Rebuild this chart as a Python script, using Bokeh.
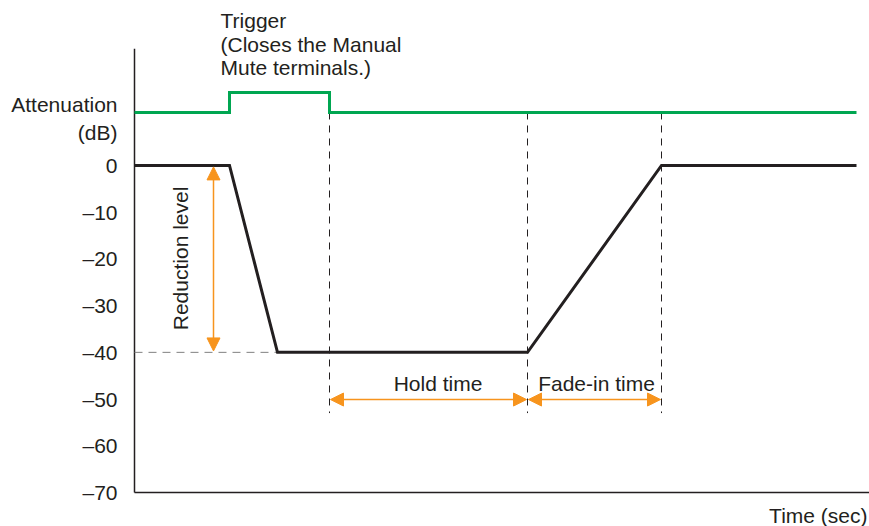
from bokeh.plotting import figure
from bokeh.models import Range1d, FixedTicker, Label, Arrow, NormalHead
from bokeh.embed import file_html
from bokeh.resources import INLINE
import math

# ---- data ----
level_t = [0, 9.5, 14.3, 39.3, 52.7, 72.2]
level_db = [0, 0, -40, -40, 0, 0]
trigger_t = [0, 9.5, 9.5, 19.5, 19.5, 72.2]
trigger_db = [11.35, 11.35, 15.6, 15.6, 11.35, 11.35]
marker_t = [19.5, 39.3, 52.7]
y_ticks = [0, -10, -20, -30, -40, -50, -60, -70]
y_tick_labels = {t: ("0" if t == 0 else "\u2013" + str(-t)) for t in y_ticks}
axis_t = [0, 73.5]
axis_db = [-70, 25]

FONT = "Liberation Sans"
TXT = "#231f20"
ORANGE = "#f7941d"
GREEN = "#00a651"

p = figure(width=869, height=526, output_backend="svg", toolbar_location=None,
           x_range=Range1d(-13.4, 73.5), y_range=Range1d(-77.28, 35.32),
           min_border_left=0, min_border_right=0, min_border_top=0, min_border_bottom=0)
p.outline_line_color = None
p.xgrid.visible = False
p.ygrid.visible = False
p.background_fill_color = "white"
p.xaxis.visible = False

# y axis placed at t = 0 inside the frame
p.yaxis.fixed_location = 0
p.yaxis.ticker = FixedTicker(ticks=y_ticks)
p.yaxis.major_label_overrides = y_tick_labels
p.yaxis.major_tick_line_color = None
p.yaxis.minor_tick_line_color = None
p.yaxis.major_tick_out = 0
p.yaxis.major_tick_in = 0
p.yaxis.major_label_standoff = 17
p.yaxis.major_label_text_font = FONT
p.yaxis.major_label_text_font_size = "21px"
p.yaxis.major_label_text_color = TXT
p.yaxis.axis_line_color = None

# axis lines
p.line([axis_t[0], axis_t[0]], axis_db, line_color=TXT, line_width=1.5)
p.line(axis_t, [axis_db[0], axis_db[0]], line_color=TXT, line_width=1.5)

# dashed markers
for t in marker_t:
    p.line([t, t], [11.35, -53], line_color=TXT, line_width=1, line_dash="7 6")
p.line([0, level_t[2]], [-40, -40], line_color="#808080", line_width=1, line_dash="8 6")

# signal lines
p.line(trigger_t, trigger_db, line_color=GREEN, line_width=3, line_join="miter")
p.line(level_t, level_db, line_color=TXT, line_width=3, line_join="miter")

# orange arrows
def arr(x0, y0, x1, y1):
    p.add_layout(Arrow(x_start=x0, y_start=y0, x_end=x1, y_end=y1,
                       line_color=ORANGE, line_width=1.5,
                       start=NormalHead(size=13, fill_color=ORANGE, line_color=ORANGE, line_width=1),
                       end=NormalHead(size=13, fill_color=ORANGE, line_color=ORANGE, line_width=1)))

arr(7.9, -0.3, 7.9, -39.7)
arr(marker_t[0] + 0.1, -50.1, marker_t[1] - 0.1, -50.1)
arr(marker_t[1] + 0.1, -50.1, marker_t[2] - 0.1, -50.1)

def lab(x, y, text, align="left", angle=0.0):
    p.add_layout(Label(x=x, y=y, text=text, text_font=FONT, text_font_size="21px",
                       text_color=TXT, text_align=align, text_baseline="middle",
                       angle=angle))

lab(-1.7, 13.06, "Attenuation", "right")
lab(-1.7, 7.06, "(dB)", "right")
lab(8.6, 31.04, "Trigger")
lab(8.6, 25.9, "(Closes the Manual")
lab(8.6, 21.0, "Mute terminals.)")
lab(4.6, -19.9, "Reduction level", "center", math.pi / 2)
lab(30.35, -46.7, "Hold time", "center")
lab(46.2, -46.7, "Fade-in time", "center")
lab(73.3, -74.9, "Time (sec)", "right")

open("out.html", "w").write(file_html(p, INLINE))
